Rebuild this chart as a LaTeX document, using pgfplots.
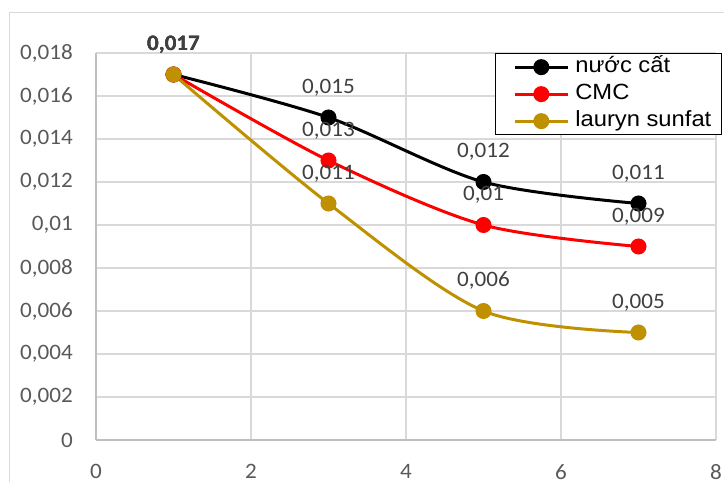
\documentclass[border=0pt]{standalone}
\usepackage{pgfplots}
\pgfplotsset{compat=1.18}
\usepackage{fontspec}
\setmainfont{Carlito}[FakeStretch=1.05]
\newfontfamily\legendfont{Liberation Sans}[FakeStretch=1.08]

\definecolor{gridgrey}{HTML}{D9D9D9}
\definecolor{axisgrey}{HTML}{BFBFBF}
\definecolor{tickgrey}{HTML}{595959}
\definecolor{labelgrey}{HTML}{404040}
\definecolor{gold}{HTML}{BF9000}

\begin{document}
\begin{tikzpicture}[x=1pt,y=1pt]
\useasboundingbox (0,0) rectangle (724,482);
% chart area frame
\draw[line width=1.3pt, gridgrey] (9.3,-5) -- (9.3,469.3) -- (740,469.3);
\begin{axis}[
  at={(96pt,42pt)}, anchor=south west,
  scale only axis, width=620pt, height=387pt,
  xmin=0, xmax=8, ymin=0, ymax=0.018,
  xtick={0,2,4,6,8},
  ytick={0,0.002,0.004,0.006,0.008,0.01,0.012,0.014,0.016,0.018},
  scaled y ticks=false,
  /pgf/number format/assume math mode=true,
  /pgf/number format/use comma,
  yticklabel style={/pgf/number format/fixed, /pgf/number format/precision=3,
    inner sep=0pt, anchor=east, xshift=-23pt, color=tickgrey,
    font=\fontsize{22}{26}\selectfont},
  xticklabel style={inner sep=0pt, anchor=north, yshift=-24pt, color=tickgrey,
    font=\fontsize{22}{26}\selectfont},
  major tick length=0pt,
  axis x line*=bottom, axis y line*=left,
  axis line style={axisgrey, line width=1.3pt, -},
  xmajorgrids, ymajorgrids,
  major grid style={gridgrey, line width=1.3pt},
  clip=false,
  nodes near coords={\ifnum\coordindex=0 \bfseries\fi
    \pgfmathprintnumber[fixed,precision=3,use comma]{\pgfplotspointmeta}},
  every node near coord/.append style={anchor=base, yshift=24pt, inner sep=0pt,
    color=labelgrey, font=\fontsize{22}{26}\selectfont},
  every axis plot/.append style={smooth, tension=0.5, line width=3pt, mark=*, mark size=6.5pt},
  legend cell align=left,
  legend image code/.code={
    \path (0pt,0pt);
    \draw[#1, mark indices={2}] plot coordinates {(8pt,0pt) (34.5pt,0pt) (61pt,0pt)};
  },
  legend style={at={(1.0097,1.0)}, anchor=north east, draw=black, line width=1.3pt,
    fill=white, inner xsep=10pt, inner ysep=3pt, row sep=6pt, column sep=6pt,
    nodes={inner sep=0pt, text height=16pt, text depth=5pt},
    font=\legendfont\fontsize{22}{26}\selectfont},
]
\addplot[black, mark options={fill=black, draw=black}] coordinates {
  (1,0.017) (3,0.015) (5,0.012) (7,0.011)};
\addlegendentry{nước cất}
\addplot[red, mark options={fill=red, draw=red}] coordinates {
  (1,0.017) (3,0.013) (5,0.010) (7,0.009)};
\addlegendentry{CMC}
\addplot[gold, mark options={fill=gold, draw=gold}] coordinates {
  (1,0.017) (3,0.011) (5,0.006) (7,0.005)};
\addlegendentry{lauryn sunfat}
\end{axis}
\end{tikzpicture}
\end{document}
